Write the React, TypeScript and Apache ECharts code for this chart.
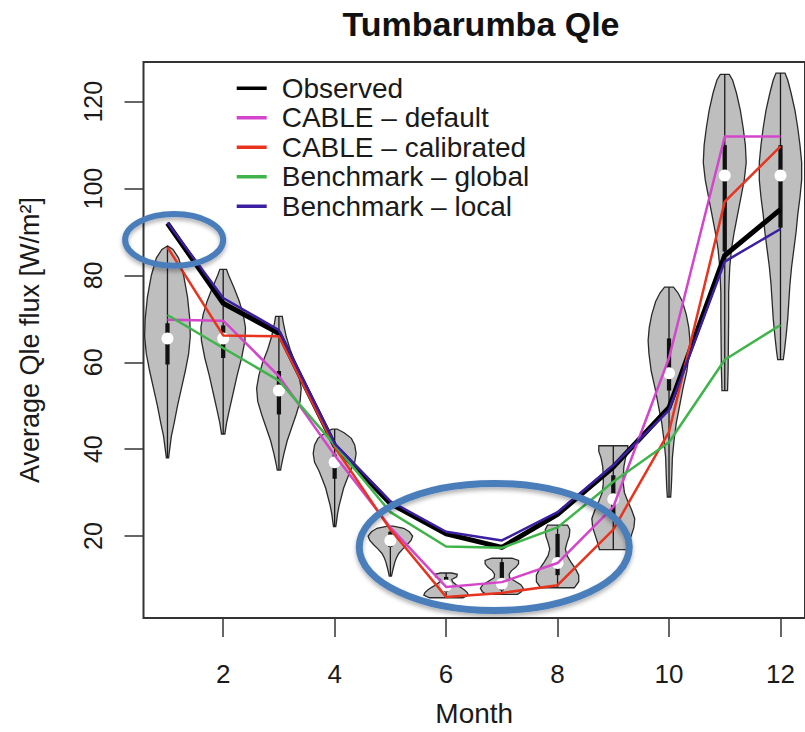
import React, { useEffect, useRef } from "react";
import * as echarts from "echarts";

// ---------- data ----------
const months = [1, 2, 3, 4, 5, 6, 7, 8, 9, 10, 11, 12];
const monthTicks = [2, 4, 6, 8, 10, 12];
const fluxTicks = [20, 40, 60, 80, 100, 120];

const observed = [92, 73.6, 66.7, 40.8, 27.5, 20.5, 17.4, 25, 35.9, 49.6, 84.6, 95.2];
const cableDefault = [69.8, 69.6, 56.8, 38.6, 22, 8.3, 9.4, 13.8, 26.7, 61, 112, 112];
const cableCalibrated = [86.5, 66.2, 66, 40.5, 21.5, 6, 6.9, 8.7, 21.5, 44, 97, 109.7];
const benchGlobal = [70.9, 63.3, 55.8, 41, 25.5, 17.6, 17.3, 22, 32.5, 41.6, 60.6, 68.6];
const benchLocal = [92.2, 74.8, 67.4, 41.3, 28, 21, 19, 25.5, 36.3, 49, 83.2, 90.7];

// violin outlines: flux levels (top -> bottom) and density half-widths (in months)
const violinLevels = [
  [86.8, 86, 84, 80, 75, 70, 66, 62, 58, 54, 50, 46, 43, 40, 38],
  [81.4, 80, 77, 74, 71, 68, 65, 61, 57, 53, 49, 46, 43.5],
  [70.6, 69, 66, 63, 60, 57, 54, 51, 48, 45, 42, 39, 36, 35.2],
  [44.6, 43.8, 42.5, 41, 39, 37, 35, 33, 31, 29, 27, 25, 23, 22.2],
  [22.3, 21.8, 21, 20, 19, 18, 17, 16, 15, 14, 13, 12, 10.8],
  [11.5, 11.2, 10.6, 10.0, 9.4, 8.8, 8.2, 7.6, 7.0, 6.4, 5.8],
  [14.9, 14.4, 13.6, 12.8, 12.0, 11.2, 10.4, 9.6, 8.8, 8.0, 7.2, 6.6],
  [22.5, 21.5, 20, 18.5, 17, 15.5, 14, 12.5, 11, 9.5, 8.1],
  [40.8, 39.5, 38, 36, 34, 32, 30, 28, 26, 24, 22, 20, 18, 16.9],
  [77.3, 76, 74, 71, 68, 65, 62, 58, 54, 50, 46, 42, 38, 34, 31, 29],
  [126.3, 125, 122, 118, 114, 110, 106, 102, 98, 94, 90, 86, 82, 76, 70, 64, 58, 53.5],
  [126.6, 125, 122, 118, 114, 110, 106, 102, 98, 94, 90, 86, 82, 78, 74, 70, 66, 62.5, 60.6],
];
const violinHalfWidths = [
  [0, 0.1, 0.2, 0.29, 0.36, 0.4, 0.41, 0.38, 0.32, 0.25, 0.18, 0.12, 0.07, 0.04, 0.02],
  [0.06, 0.1, 0.2, 0.29, 0.36, 0.4, 0.39, 0.33, 0.25, 0.18, 0.11, 0.06, 0.03],
  [0.06, 0.08, 0.13, 0.2, 0.29, 0.36, 0.4, 0.38, 0.31, 0.23, 0.15, 0.09, 0.04, 0.03],
  [0.05, 0.17, 0.3, 0.36, 0.385, 0.36, 0.28, 0.22, 0.16, 0.12, 0.08, 0.05, 0.03, 0.02],
  [0.05, 0.24, 0.34, 0.4, 0.37, 0.3, 0.22, 0.15, 0.11, 0.08, 0.06, 0.04, 0.02],
  [0.1, 0.2, 0.19, 0.1, 0.12, 0.18, 0.26, 0.33, 0.38, 0.4, 0.3],
  [0.18, 0.3, 0.3, 0.25, 0.17, 0.13, 0.14, 0.24, 0.34, 0.385, 0.35, 0.28],
  [0.18, 0.22, 0.21, 0.17, 0.14, 0.17, 0.24, 0.32, 0.38, 0.38, 0.3],
  [0.26, 0.26, 0.22, 0.19, 0.18, 0.18, 0.2, 0.26, 0.33, 0.385, 0.37, 0.32, 0.27, 0.25],
  [0.08, 0.16, 0.24, 0.31, 0.355, 0.375, 0.36, 0.32, 0.25, 0.19, 0.13, 0.09, 0.06, 0.05, 0.04, 0.03],
  [0.08, 0.14, 0.21, 0.28, 0.33, 0.37, 0.385, 0.35, 0.29, 0.23, 0.17, 0.12, 0.09, 0.07, 0.07, 0.065, 0.06, 0.05],
  [0.08, 0.13, 0.19, 0.26, 0.31, 0.35, 0.38, 0.38, 0.35, 0.31, 0.28, 0.24, 0.2, 0.17, 0.15, 0.13, 0.1, 0.07, 0.05],
];
const violinMedian = [65.5, 65.5, 53.5, 37, 19, 8.6, 9, 13.8, 28.5, 57.5, 103, 103];
const violinQ1 = [59.5, 61, 48, 33.2, 17.5, 7.2, 7.5, 11, 24, 53.5, 85.5, 91];
const violinQ3 = [69, 68.5, 58, 38.8, 21, 10.6, 14, 20.5, 34, 65.5, 110, 110];

// highlight ellipses (annotation): [month, flux, radius in months, radius in flux]
const highlightEllipses = [
  [1.12, 88.2, 0.88, 5.94],
  [6.864, 17.49, 2.423, 14.63],
];

const seriesNames = [
  "Observed",
  "CABLE – default",
  "CABLE – calibrated",
  "Benchmark – global",
  "Benchmark – local",
];
const seriesValues = [observed, cableDefault, cableCalibrated, benchGlobal, benchLocal];
const seriesColors = ["#000000", "#d346cc", "#e8341e", "#3fb44a", "#3b1fa0"];
const seriesWidths = [5, 2.5, 2.5, 2.5, 2.5];

const FONT = "'Liberation Sans', Arial, Helvetica, sans-serif";

export default function App() {
  const ref = useRef<HTMLDivElement>(null);

  useEffect(() => {
    document.body.style.margin = "0";
    const chart = echarts.init(ref.current!, null, { renderer: "svg" });
    const boxHalf = 0.038;

    const lineSeries = seriesNames.map((name, s) => ({
      name,
      type: "line",
      data: months.map((m, i) => [m, seriesValues[s][i]]),
      symbol: "none",
      color: seriesColors[s],
      lineStyle: { width: seriesWidths[s], color: seriesColors[s], join: "round" },
      z: 3 + s,
      silent: true,
    }));

    const option: any = {
      animation: false,
      backgroundColor: "#ffffff",
      title: {
        text: "Tumbarumba Qle",
        left: 481,
        top: 7,
        textAlign: "center",
        padding: 0,
        textStyle: { fontSize: 34, fontWeight: "bold", color: "#111", fontFamily: FONT },
      },
      legend: {
        data: seriesNames,
        orient: "vertical",
        left: 236.7,
        top: 73.5,
        itemWidth: 30,
        itemHeight: 3.5,
        itemGap: 0,
        padding: 0,
        icon: "rect",
        selectedMode: false,
        textStyle: {
          fontSize: 28,
          lineHeight: 29.5,
          color: "#1a1a1a",
          fontFamily: FONT,
          padding: [0, 0, 0, 10],
        },
      },
      grid: {
        left: 143.5,
        top: 62,
        width: 668.5,
        height: 560,
        show: true,
        borderColor: "#333",
        borderWidth: 2,
        backgroundColor: "transparent",
      },
      xAxis: {
        type: "value",
        min: 0.57,
        max: 12.44,
        name: "Month",
        nameLocation: "middle",
        nameGap: 81,
        nameTextStyle: { fontSize: 28, color: "#1a1a1a", fontFamily: FONT },
        axisLine: { show: false },
        splitLine: { show: false },
        axisTick: {
          show: true,
          length: 19,
          customValues: monthTicks,
          lineStyle: { color: "#333", width: 1.5 },
        },
        axisLabel: {
          customValues: monthTicks,
          margin: 43,
          fontSize: 26,
          color: "#1a1a1a",
          fontFamily: FONT,
        },
      },
      yAxis: {
        type: "value",
        min: 1.14,
        max: 129.14,
        name: "Average Qle flux [W/m²]",
        nameLocation: "middle",
        nameRotate: 90,
        nameGap: 100,
        nameTextStyle: { fontSize: 27, color: "#1a1a1a", fontFamily: FONT },
        axisLine: { show: false },
        splitLine: { show: false },
        axisTick: {
          show: true,
          length: 19,
          customValues: fluxTicks,
          lineStyle: { color: "#333", width: 1.5 },
        },
        axisLabel: {
          customValues: fluxTicks,
          rotate: 90,
          margin: 38,
          fontSize: 25,
          color: "#1a1a1a",
          fontFamily: FONT,
        },
      },
      series: [
        {
          type: "custom",
          name: "violins",
          data: months.map((m, i) => [m, violinMedian[i]]),
          encode: { x: 0, y: 1 },
          z: 1,
          silent: true,
          renderItem: (params: any, api: any) => {
            const i = params.dataIndex;
            const m = api.value(0);
            const lv = violinLevels[i];
            const hw = violinHalfWidths[i];
            const pts: number[][] = [];
            for (let k = 0; k < lv.length; k++) pts.push(api.coord([m + hw[k], lv[k]]));
            for (let k = lv.length - 1; k >= 0; k--) pts.push(api.coord([m - hw[k], lv[k]]));
            const top = api.coord([m, lv[0]]);
            const bot = api.coord([m, lv[lv.length - 1]]);
            const b1 = api.coord([m - boxHalf, violinQ3[i]]);
            const b2 = api.coord([m + boxHalf, violinQ1[i]]);
            const med = api.coord([m, violinMedian[i]]);
            return {
              type: "group",
              children: [
                {
                  type: "polygon",
                  shape: { points: pts },
                  style: { fill: "#bebebe", stroke: "#2a2a2a", lineWidth: 1.3 },
                },
                {
                  type: "line",
                  shape: { x1: top[0], y1: top[1], x2: bot[0], y2: bot[1] },
                  style: { stroke: "#1a1a1a", lineWidth: 1.3 },
                },
                {
                  type: "rect",
                  shape: { x: b1[0], y: b1[1], width: b2[0] - b1[0], height: b2[1] - b1[1] },
                  style: { fill: "#111" },
                },
                {
                  type: "circle",
                  shape: { cx: med[0], cy: med[1], r: 6 },
                  style: { fill: "#ffffff" },
                },
              ],
            };
          },
        },
        ...lineSeries,
        {
          type: "custom",
          name: "highlights",
          data: highlightEllipses,
          encode: { x: 0, y: 1 },
          z: 20,
          clip: false,
          silent: true,
          renderItem: (params: any, api: any) => {
            const c = api.coord([api.value(0), api.value(1)]);
            const s = api.size([api.value(2), api.value(3)]);
            return {
              type: "ellipse",
              shape: { cx: c[0], cy: c[1], rx: s[0], ry: s[1] },
              style: {
                fill: "none",
                stroke: "#4a7ebb",
                lineWidth: params.dataIndex === 0 ? 6 : 7,
                shadowBlur: 4,
                shadowColor: "rgba(0,0,0,0.3)",
                shadowOffsetY: 3,
              },
            };
          },
        },
      ],
    };

    chart.setOption(option);
    return () => chart.dispose();
  }, []);

  return (
    <div
      ref={ref}
      style={{ position: "absolute", left: 0, top: 0, width: 805, height: 732 }}
    />
  );
}
